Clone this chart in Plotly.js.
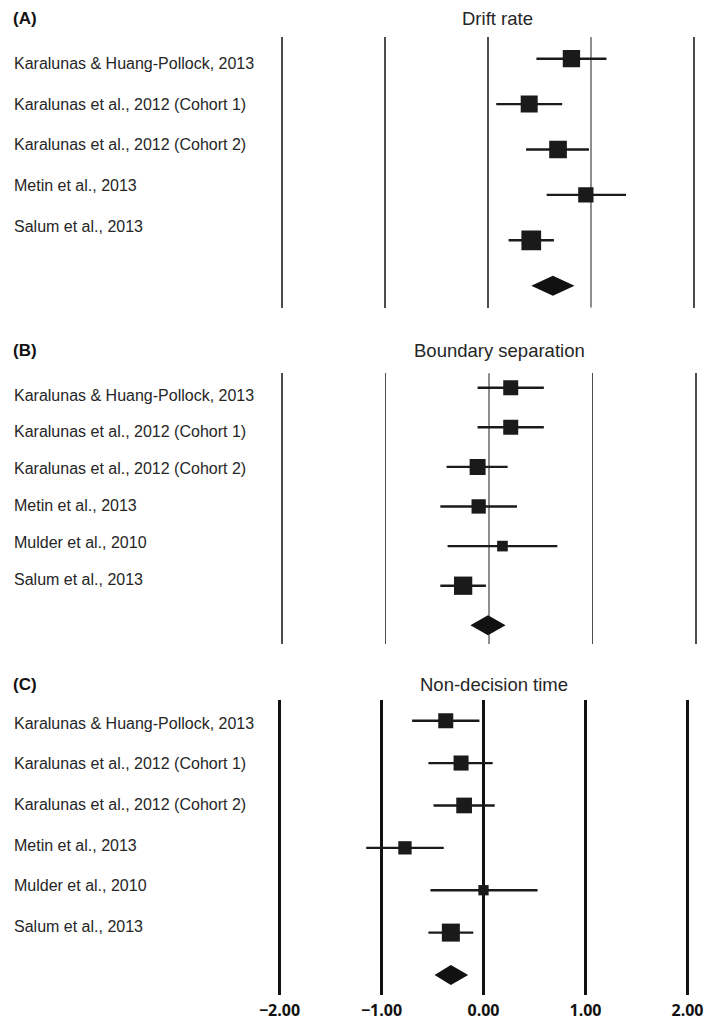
<!DOCTYPE html>
<html>
<head>
<meta charset="utf-8">
<script src="https://cdn.plot.ly/plotly-3.0.1.min.js"></script>
<style>
  html, body { margin: 0; padding: 0; background: #fff; }
  #chart { width: 714px; height: 1024px; }
</style>
</head>
<body>
<div id="chart"></div>
<script>
// --- data ---
var studiesA = ['Karalunas & Huang-Pollock, 2013', 'Karalunas et al., 2012 (Cohort 1)',
                'Karalunas et al., 2012 (Cohort 2)', 'Metin et al., 2013', 'Salum et al., 2013'];
var estA = [0.81, 0.40, 0.68, 0.95, 0.42];
var loA = [0.47, 0.08, 0.37, 0.57, 0.20];
var hiA = [1.15, 0.72, 0.98, 1.34, 0.64];
var weightA = [19.7, 19.0, 20.5, 15.4, 25.5];
var pooledA = [0.63, 0.42, 0.84];   // estimate, lower, upper

var studiesB = ['Karalunas & Huang-Pollock, 2013', 'Karalunas et al., 2012 (Cohort 1)',
                'Karalunas et al., 2012 (Cohort 2)', 'Metin et al., 2013',
                'Mulder et al., 2010', 'Salum et al., 2013'];
var estB = [0.21, 0.21, -0.11, -0.10, 0.13, -0.25];
var loB = [-0.11, -0.11, -0.41, -0.47, -0.40, -0.47];
var hiB = [0.53, 0.53, 0.18, 0.27, 0.66, -0.03];
var weightB = [16.6, 16.6, 18.8, 15.0, 8.4, 24.7];
var pooledB = [-0.01, -0.18, 0.16];

var studiesC = studiesB.slice();
var estC = [-0.37, -0.22, -0.19, -0.77, 0.00, -0.32];
var loC = [-0.70, -0.54, -0.49, -1.15, -0.52, -0.54];
var hiC = [-0.04, 0.09, 0.11, -0.39, 0.53, -0.10];
var weightC = [17.3, 17.3, 18.9, 13.6, 8.1, 24.9];
var pooledC = [-0.32, -0.48, -0.15];

var panelTitles = ['Drift rate', 'Boundary separation', 'Non-decision time'];
var panelTags = ['(A)', '(B)', '(C)'];
var tickVals = [-2, -1, 0, 1, 2];

// --- page geometry (pixels) ---
var W = 714, H = 1024;
var geo = [
  {px0: 488, ppu: 103, top: 37, bot: 307.5, row0: 58.7, rowStep: 45.4,
   lab0: 63.3, labStep: 40.8, titleY: 18, titleX: 497, k: 3.9,
   grid: [-2, -1, 0, 2], ref: 1, gridColor: '#4d4d4d', gridW: 1.8},
  {px0: 489, ppu: 103.5, top: 373.3, bot: 644, row0: 387.7, rowStep: 39.6,
   lab0: 395, labStep: 36.9, titleY: 350, titleX: 500, k: 3.68,
   grid: [-2, -1, 1, 2], ref: 0, gridColor: '#4d4d4d', gridW: 1.8},
  {px0: 483.5, ppu: 102, top: 700, bot: 995, row0: 720.7, rowStep: 42.38,
   lab0: 723.3, labStep: 40.6, titleY: 684, titleX: 494, k: 3.61,
   grid: [-2, -1, 0, 1, 2], ref: null, gridColor: '#111', gridW: 2.2}
];

var panels = [
  [studiesA, estA, loA, hiA, weightA, pooledA],
  [studiesB, estB, loB, hiB, weightB, pooledB],
  [studiesC, estC, loC, hiC, weightC, pooledC]
];

var data = [];
var layout = {
  width: W, height: H,
  margin: {l: 0, r: 0, t: 0, b: 0},
  paper_bgcolor: '#fff', plot_bgcolor: 'rgba(0,0,0,0)',
  showlegend: false,
  font: {family: 'Liberation Sans, Arial, sans-serif', color: '#222'},
  annotations: [], shapes: []
};

panels.forEach(function(p, i) {
  var g = geo[i];
  var studies = p[0], est = p[1], lo = p[2], hi = p[3], wt = p[4], pooled = p[5];
  var sfx = i === 0 ? '' : String(i + 1);
  var xa = 'x' + sfx, ya = 'y' + sfx;
  var xmin = -2.3, xmax = 2.15;
  var n = studies.length;
  var rows = studies.map(function(s, j) { return j; });

  // study estimates with CI
  data.push({
    type: 'scatter', mode: 'markers', xaxis: xa, yaxis: ya,
    x: est, y: rows, hoverinfo: 'skip',
    marker: {symbol: 'square', color: '#1a1a1a', opacity: 1,
             size: wt.map(function(w) { return Math.sqrt(w) * g.k; }),
             line: {width: 0}},
    error_x: {type: 'data', symmetric: false,
              array: hi.map(function(h, j) { return h - est[j]; }),
              arrayminus: lo.map(function(l, j) { return est[j] - l; }),
              width: 0, thickness: 2.4, color: '#1a1a1a'}
  });

  // pooled diamond
  var hh = 10 / g.rowStep;
  data.push({
    type: 'scatter', mode: 'lines', xaxis: xa, yaxis: ya, hoverinfo: 'skip',
    x: [pooled[1], pooled[0], pooled[2], pooled[0], pooled[1]],
    y: [n, n - hh, n, n + hh, n],
    fill: 'toself', fillcolor: '#111', line: {width: 0}
  });

  var xName = 'xaxis' + sfx, yName = 'yaxis' + sfx;
  layout[xName] = {
    domain: [(g.px0 + xmin * g.ppu) / W, (g.px0 + xmax * g.ppu) / W],
    range: [xmin, xmax], anchor: ya,
    tickmode: 'array', tickvals: g.grid,
    showgrid: true, gridcolor: g.gridColor, gridwidth: g.gridW,
    zeroline: false, showline: false, ticks: '',
    showticklabels: false
  };
  if (i === 0 || i === 1) {
    // thin reference line
    layout.shapes.push({type: 'line', xref: xa, yref: ya + ' domain',
      x0: g.ref, x1: g.ref, y0: 0, y1: 1,
      line: {color: '#444', width: 1.2}, layer: 'below'});
  }
  if (i === 2) {
    layout[xName].tickvals = tickVals;
    layout[xName].showticklabels = true;
    layout[xName].tickformat = '.2f';
    layout[xName].ticklabelstandoff = 4;
    layout[xName].tickfont = {family: 'Open Sans, Liberation Sans, sans-serif',
                              size: 16, weight: 'bold', color: '#111'};
  }
  layout[yName] = {
    domain: [1 - g.bot / H, 1 - g.top / H],
    range: [(g.bot - g.row0) / g.rowStep, (g.top - g.row0) / g.rowStep],
    anchor: xa, showgrid: false, zeroline: false, showline: false,
    showticklabels: false, ticks: ''
  };

  // study labels
  studies.forEach(function(s, j) {
    layout.annotations.push({
      xref: 'paper', yref: 'paper', x: 12 / W, y: 1 - (g.lab0 + j * g.labStep) / H,
      xanchor: 'left', yanchor: 'middle', showarrow: false, text: s,
      font: {size: 16, color: '#262626'}
    });
  });
  // panel tag and title
  layout.annotations.push({
    xref: 'paper', yref: 'paper', x: 11 / W, y: 1 - g.titleY / H,
    xanchor: 'left', yanchor: 'middle', showarrow: false, text: panelTags[i],
    font: {size: 17, weight: 'bold', color: '#111'}
  });
  layout.annotations.push({
    xref: 'paper', yref: 'paper', x: g.titleX / W, y: 1 - g.titleY / H,
    xanchor: 'center', yanchor: 'middle', showarrow: false, text: panelTitles[i],
    font: {size: 18.5, color: '#262626'}
  });
});

Plotly.newPlot('chart', data, layout, {staticPlot: true, displayModeBar: false});
</script>
</body>
</html>
